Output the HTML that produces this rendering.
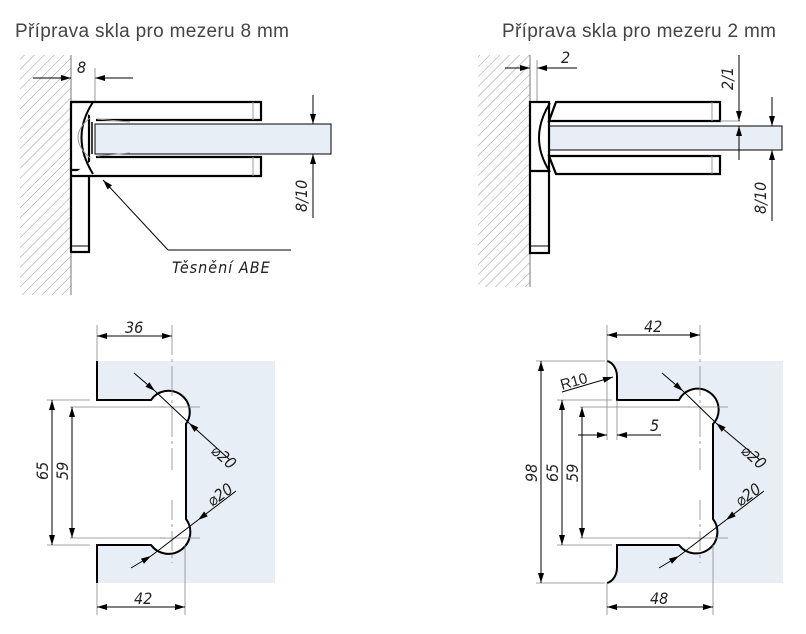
<!DOCTYPE html>
<html><head><meta charset="utf-8"><style>
html,body{margin:0;padding:0;background:#fff;}
svg{display:block;}
.t{font-family:"Liberation Sans",sans-serif;}
.d{font-family:"DejaVu Sans Condensed","DejaVu Sans","Liberation Sans",sans-serif;font-style:italic;font-size:16px;fill:#222;}
</style></head><body>
<svg width="806" height="634" viewBox="0 0 806 634" xmlns="http://www.w3.org/2000/svg">
<defs>
<pattern id="h" width="7" height="7" patternUnits="userSpaceOnUse" patternTransform="rotate(45)">
<line x1="0" y1="0" x2="0" y2="7" stroke="#999" stroke-width="1"/>
</pattern>
<marker id="a" viewBox="0 0 10 6" refX="10" refY="3" markerWidth="11" markerHeight="6" orient="auto-start-reverse" markerUnits="userSpaceOnUse">
<path d="M0,0 L10,3 L0,6 z" fill="#000"/>
</marker>
</defs>

<text class="t" x="15" y="37" font-size="19" fill="#444" textLength="274">Příprava skla pro mezeru 8 mm</text>
<text class="t" x="502" y="37" font-size="19" fill="#444" textLength="274">Příprava skla pro mezeru 2 mm</text>

<!-- TOP LEFT -->
<rect x="20" y="55" width="51" height="240" fill="url(#h)"/>
<line x1="71" y1="55" x2="71" y2="295" stroke="#777" stroke-width="1"/>
<line x1="33" y1="78" x2="71" y2="78" stroke="#000" marker-end="url(#a)"/>
<line x1="133" y1="78" x2="95" y2="78" stroke="#000" marker-end="url(#a)"/>
<line x1="95" y1="68" x2="95" y2="102" stroke="#999"/>
<text class="d" x="77" y="73">8</text>
<rect x="95" y="124" width="236" height="30" fill="#e8eef6" stroke="#000" stroke-width="1"/>
<g fill="#fff" stroke="#000" stroke-width="2.2">
<rect x="71" y="102" width="18" height="150"/>
<line x1="71" y1="170" x2="89" y2="170"/>
<path d="M71,102 H261 V120 H96"/>
<path d="M71,176 H261 V157 H96"/>
</g>
<line x1="71" y1="246" x2="89" y2="246" stroke="#000" stroke-width="1"/>
<line x1="253" y1="102" x2="253" y2="120" stroke="#999"/>
<line x1="253" y1="157" x2="253" y2="176" stroke="#999"/>
<path d="M93,102 Q70,137 93,174" fill="none" stroke="#000" stroke-width="2"/>
<path d="M90,118 Q66,137 90,158" fill="none" stroke="#999" stroke-width="1"/>
<path d="M97,119 L130,122 M97,156 L130,153" stroke="#999"/>
<line x1="92" y1="122" x2="92" y2="154" stroke="#000" stroke-width="1.5"/>
<line x1="168" y1="250" x2="103" y2="180" stroke="#000" marker-end="url(#a)"/>
<line x1="168" y1="250" x2="291" y2="250" stroke="#000"/>
<text class="d" x="172" y="273" font-size="18" letter-spacing="1">Těsnění ABE</text>
<line x1="313" y1="95" x2="313" y2="124" stroke="#000" marker-end="url(#a)"/>
<line x1="313" y1="218" x2="313" y2="154" stroke="#000" marker-end="url(#a)"/>
<text class="d" transform="translate(307,212) rotate(-90)">8/10</text>

<!-- TOP RIGHT -->
<rect x="478" y="55" width="52" height="232" fill="url(#h)"/>
<line x1="530" y1="55" x2="530" y2="287" stroke="#777"/>
<line x1="505" y1="68" x2="530" y2="68" stroke="#000" marker-end="url(#a)"/>
<line x1="577" y1="68" x2="537" y2="68" stroke="#000" marker-end="url(#a)"/>
<line x1="537" y1="60" x2="537" y2="126" stroke="#999"/>
<text class="d" x="561" y="63">2</text>
<rect x="537" y="126" width="245" height="24" fill="#e8eef6" stroke="#000"/>
<g fill="#fff" stroke="#000" stroke-width="2.2">
<rect x="530" y="102" width="19" height="151"/>
<line x1="530" y1="171" x2="549" y2="171"/>
<path d="M556,102 H720 V121 H549 Z"/>
<path d="M556,174 H720 V156 H549 Z"/>
</g>
<line x1="530" y1="246" x2="549" y2="246" stroke="#000"/>
<line x1="712" y1="102" x2="712" y2="121" stroke="#999"/>
<line x1="712" y1="156" x2="712" y2="174" stroke="#999"/>
<path d="M550,103 Q528,138 550,172" fill="none" stroke="#000" stroke-width="2"/>
<line x1="720" y1="121" x2="740" y2="121" stroke="#999"/>
<line x1="739" y1="55" x2="739" y2="121" stroke="#000" marker-end="url(#a)"/>
<line x1="739" y1="160" x2="739" y2="126" stroke="#000" marker-end="url(#a)"/>
<text class="d" transform="translate(733,90) rotate(-90)">2/1</text>
<line x1="772" y1="97" x2="772" y2="126" stroke="#000" marker-end="url(#a)"/>
<line x1="772" y1="221" x2="772" y2="150" stroke="#000" marker-end="url(#a)"/>
<text class="d" transform="translate(766,214) rotate(-90)">8/10</text>

<!-- BOTTOM LEFT -->
<rect x="97" y="361" width="178" height="222" fill="#e8eef6"/>
<path d="M97,361 V400 H151 A21,21 0 1 1 186,424 V519 A21,21 0 1 1 151,545 H97 V583 H60 V361 Z" fill="#fff"/>
<path d="M97,361 V400 H151 A21,21 0 1 1 186,424 V519 A21,21 0 1 1 151,545 H97 V583" fill="none" stroke="#000" stroke-width="2"/>
<g stroke="#888" stroke-width="0.8" fill="none">
<line x1="172" y1="325" x2="172" y2="470" stroke-dasharray="30,4,3,4"/>
<line x1="172" y1="500" x2="172" y2="563" stroke-dasharray="20,4,3,4"/>
<line x1="160" y1="407" x2="200" y2="407"/>
<line x1="160" y1="538" x2="200" y2="538"/>
<line x1="97" y1="325" x2="97" y2="361"/>
<line x1="185" y1="545" x2="185" y2="615"/>
<line x1="97" y1="583" x2="97" y2="615"/>
<line x1="47" y1="400" x2="90" y2="400"/>
<line x1="47" y1="545" x2="90" y2="545"/>
<line x1="70" y1="407" x2="165" y2="407"/>
<line x1="70" y1="538" x2="165" y2="538"/>
</g>
<line x1="134" y1="336" x2="97" y2="336" stroke="#000" marker-end="url(#a)"/>
<line x1="134" y1="336" x2="172" y2="336" stroke="#000" marker-end="url(#a)"/>
<text class="d" x="125" y="333">36</text>
<line x1="140" y1="607" x2="97" y2="607" stroke="#000" marker-end="url(#a)"/>
<line x1="140" y1="607" x2="185" y2="607" stroke="#000" marker-end="url(#a)"/>
<text class="d" x="134" y="604">42</text>
<line x1="52" y1="470" x2="52" y2="400" stroke="#000" marker-end="url(#a)"/>
<line x1="52" y1="470" x2="52" y2="545" stroke="#000" marker-end="url(#a)"/>
<text class="d" transform="translate(48,480) rotate(-90)">65</text>
<line x1="72" y1="470" x2="72" y2="407" stroke="#000" marker-end="url(#a)"/>
<line x1="72" y1="470" x2="72" y2="538" stroke="#000" marker-end="url(#a)"/>
<text class="d" transform="translate(68,480) rotate(-90)">59</text>
<line x1="134" y1="373" x2="155" y2="391" stroke="#000" marker-end="url(#a)"/>
<line x1="155" y1="391" x2="189" y2="423" stroke="#000"/>
<line x1="230" y1="460" x2="189" y2="423" stroke="#000" marker-end="url(#a)"/>
<text class="d" transform="translate(210,452) rotate(42)">⌀20</text>
<line x1="236" y1="491" x2="198" y2="520" stroke="#000" marker-end="url(#a)"/>
<line x1="198" y1="520" x2="151" y2="556" stroke="#000"/>
<line x1="131" y1="568" x2="151" y2="556" stroke="#000" marker-end="url(#a)"/>
<text class="d" transform="translate(212,507) rotate(-35)">⌀20</text>

<!-- BOTTOM RIGHT -->
<rect x="607" y="361" width="176" height="222" fill="#e8eef6"/>
<path d="M607,361 A12,16 0 0 1 617,376 V400 H679 A21,21 0 1 1 713,424 V519 A21,21 0 1 1 679,545 H617 V567 A12,16 0 0 1 607,583 H560 V361 Z" fill="#fff"/>
<path d="M607,361 A12,16 0 0 1 617,376 V400 H679 A21,21 0 1 1 713,424 V519 A21,21 0 1 1 679,545 H617 V567 A12,16 0 0 1 607,583" fill="none" stroke="#000" stroke-width="2"/>
<g stroke="#888" stroke-width="0.8" fill="none">
<line x1="700" y1="325" x2="700" y2="470" stroke-dasharray="30,4,3,4"/>
<line x1="700" y1="500" x2="700" y2="563" stroke-dasharray="20,4,3,4"/>
<line x1="688" y1="407" x2="728" y2="407"/>
<line x1="688" y1="538" x2="728" y2="538"/>
<line x1="607" y1="325" x2="607" y2="440"/>
<line x1="617" y1="400" x2="617" y2="440"/>
<line x1="713" y1="545" x2="713" y2="615"/>
<line x1="607" y1="583" x2="607" y2="615"/>
<line x1="536" y1="361" x2="605" y2="361"/>
<line x1="536" y1="583" x2="605" y2="583"/>
<line x1="557" y1="400" x2="612" y2="400"/>
<line x1="557" y1="545" x2="612" y2="545"/>
<line x1="580" y1="407" x2="690" y2="407"/>
<line x1="580" y1="538" x2="690" y2="538"/>
</g>
<line x1="650" y1="335" x2="607" y2="335" stroke="#000" marker-end="url(#a)"/>
<line x1="650" y1="335" x2="700" y2="335" stroke="#000" marker-end="url(#a)"/>
<text class="d" x="644" y="332">42</text>
<line x1="660" y1="607" x2="607" y2="607" stroke="#000" marker-end="url(#a)"/>
<line x1="660" y1="607" x2="713" y2="607" stroke="#000" marker-end="url(#a)"/>
<text class="d" x="650" y="604">48</text>
<line x1="541" y1="470" x2="541" y2="361" stroke="#000" marker-end="url(#a)"/>
<line x1="541" y1="470" x2="541" y2="583" stroke="#000" marker-end="url(#a)"/>
<text class="d" transform="translate(537,482) rotate(-90)">98</text>
<line x1="562" y1="470" x2="562" y2="400" stroke="#000" marker-end="url(#a)"/>
<line x1="562" y1="470" x2="562" y2="545" stroke="#000" marker-end="url(#a)"/>
<text class="d" transform="translate(558,482) rotate(-90)">65</text>
<line x1="582" y1="470" x2="582" y2="407" stroke="#000" marker-end="url(#a)"/>
<line x1="582" y1="470" x2="582" y2="538" stroke="#000" marker-end="url(#a)"/>
<text class="d" transform="translate(578,482) rotate(-90)">59</text>
<line x1="578" y1="435" x2="607" y2="435" stroke="#000" marker-end="url(#a)"/>
<line x1="661" y1="435" x2="617" y2="435" stroke="#000" marker-end="url(#a)"/>
<text class="d" x="650" y="431">5</text>
<line x1="562" y1="392" x2="613" y2="377" stroke="#000" marker-end="url(#a)"/>
<text class="t" transform="translate(562,390) rotate(-16)" font-size="15" fill="#222">R10</text>
<line x1="662" y1="373" x2="683" y2="391" stroke="#000" marker-end="url(#a)"/>
<line x1="683" y1="391" x2="716" y2="423" stroke="#000"/>
<line x1="760" y1="460" x2="716" y2="423" stroke="#000" marker-end="url(#a)"/>
<text class="d" transform="translate(740,452) rotate(42)">⌀20</text>
<line x1="764" y1="491" x2="726" y2="520" stroke="#000" marker-end="url(#a)"/>
<line x1="726" y1="520" x2="679" y2="556" stroke="#000"/>
<line x1="659" y1="568" x2="679" y2="556" stroke="#000" marker-end="url(#a)"/>
<text class="d" transform="translate(740,507) rotate(-35)">⌀20</text>
</svg>
</body></html>
